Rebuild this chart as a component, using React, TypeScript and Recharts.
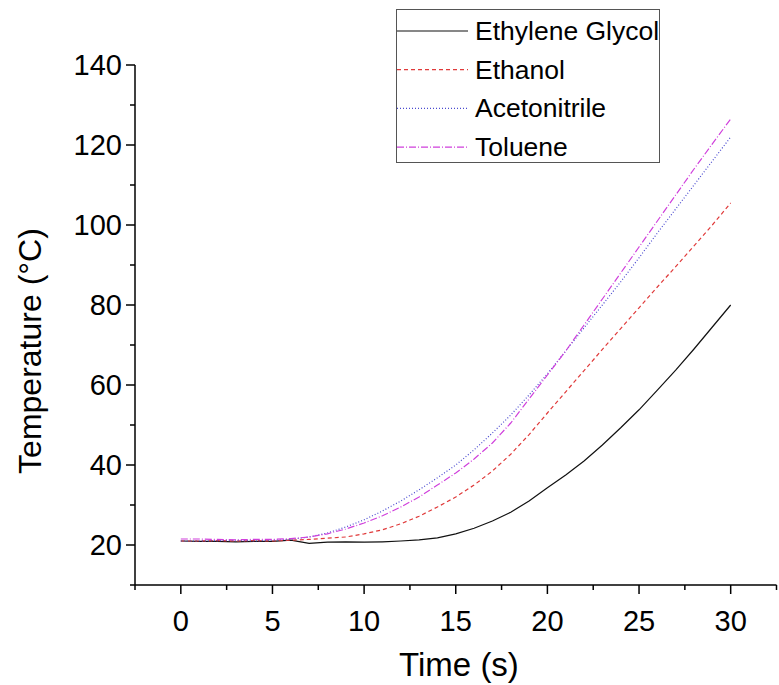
import { Label, Legend, Line, LineChart, XAxis, YAxis } from "recharts";

const FONT = '"Liberation Sans", Arial, sans-serif';

// time in seconds, one reading per second
const times = [
  0, 1, 2, 3, 4, 5, 6, 7, 8, 9, 10, 11, 12, 13, 14, 15, 16, 17, 18, 19, 20,
  21, 22, 23, 24, 25, 26, 27, 28, 29, 30,
];

const ethyleneGlycol = [
  21.0, 20.9, 20.9, 20.8, 20.9, 20.9, 21.2, 20.4, 20.7, 20.8, 20.7, 20.8, 21.0,
  21.3, 21.8, 22.8, 24.2, 26.0, 28.2, 31.0, 34.3, 37.5, 41.0, 45.0, 49.3, 53.8,
  58.7, 63.7, 69.0, 74.5, 80.0,
];

const ethanol = [
  21.0, 21.0, 21.1, 21.0, 21.1, 21.0, 21.2, 21.4, 21.7, 22.0, 22.8, 23.8, 25.3,
  27.2, 29.5, 32.0, 35.0, 38.5, 42.7, 47.6, 53.0, 58.3, 63.6, 68.9, 74.1, 79.3,
  84.5, 89.6, 94.8, 100.0, 105.5,
];

const acetonitrile = [
  21.0, 21.0, 21.1, 21.2, 21.0, 21.2, 21.4, 22.0, 23.0, 24.5, 26.3, 28.5, 31.0,
  33.8, 36.8, 40.0, 43.8, 48.0, 52.5, 57.5, 62.8, 68.5, 74.3, 80.0, 85.8, 91.8,
  98.0, 104.0, 110.0, 116.0, 122.0,
];

const toluene = [
  21.5, 21.5, 21.4, 21.3, 21.4, 21.4, 21.6, 22.0, 22.8, 24.0, 25.5, 27.3, 29.5,
  32.0, 35.0, 38.0, 41.5, 45.5, 50.5, 56.5, 62.5, 68.5, 75.0, 81.5, 88.0, 94.5,
  101.0, 107.5, 114.0, 120.3, 126.5,
];

const xTicks = [
  -2.5, 0, 2.5, 5, 7.5, 10, 12.5, 15, 17.5, 20, 22.5, 25, 27.5, 30, 32.5,
];
const yTicks = [10, 20, 30, 40, 50, 60, 70, 80, 90, 100, 110, 120, 130, 140];

const series = [
  { key: "eg", name: "Ethylene Glycol", color: "#111111", dash: undefined },
  { key: "et", name: "Ethanol", color: "#e03a3a", dash: "4 3" },
  { key: "ac", name: "Acetonitrile", color: "#4b4bd0", dash: "1 2" },
  { key: "to", name: "Toluene", color: "#d040dc", dash: "7 2 1 2" },
];

const data = times.map((t, i) => ({
  t,
  eg: ethyleneGlycol[i],
  et: ethanol[i],
  ac: acetonitrile[i],
  to: toluene[i],
}));

function XTick(props: any) {
  const { x, y, payload } = props;
  const major = payload.value % 5 === 0;
  return (
    <g>
      <line x1={x} x2={x} y1={y} y2={y + (major ? 9 : 5)} stroke="#000" strokeWidth={1.5} />
      {major && (
        <text x={x} y={y + 46} textAnchor="middle" fontSize={29} fontFamily={FONT} fill="#000">
          {payload.value}
        </text>
      )}
    </g>
  );
}

function YTick(props: any) {
  const { x, y, payload } = props;
  const major = payload.value % 20 === 0;
  return (
    <g>
      <line x1={x - (major ? 9 : 5)} x2={x} y1={y} y2={y} stroke="#000" strokeWidth={1.5} />
      {major && (
        <text x={x - 13} y={y + 10} textAnchor="end" fontSize={29} fontFamily={FONT} fill="#000">
          {payload.value}
        </text>
      )}
    </g>
  );
}

function LegendBox() {
  return (
    <svg width={264} height={155}>
      <rect x={0.5} y={0.5} width={263} height={153} fill="#fff" stroke="#555" />
      {series.map((s, i) => {
        const cy = 22 + i * 38.7;
        return (
          <g key={s.key}>
            <line x1={1} x2={72} y1={cy} y2={cy} stroke={s.color} strokeWidth={1.2} strokeDasharray={s.dash} />
            <text x={79} y={cy + 9} fontSize={26.5} fontFamily={FONT} fill="#000">
              {s.name}
            </text>
          </g>
        );
      })}
    </svg>
  );
}

export default function App() {
  return (
    <div style={{ position: "absolute", left: 0, top: 0, background: "#fff" }}>
      <LineChart width={779} height={685} data={data} margin={{ top: 65, right: 2.5, bottom: 0, left: 0 }}>
        <XAxis
          dataKey="t"
          type="number"
          domain={[-2.5, 32.5]}
          ticks={xTicks}
          interval={0}
          tickSize={0}
          tickMargin={0}
          tickLine={false}
          tick={<XTick />}
          axisLine={{ stroke: "#000", strokeWidth: 1.5 }}
          height={100}
          allowDataOverflow
        >
          <Label
            content={() => (
              <text x={459} y={676} textAnchor="middle" fontSize={33} fontFamily={FONT} fill="#000">
                Time (s)
              </text>
            )}
          />
        </XAxis>
        <YAxis
          type="number"
          domain={[10, 140]}
          ticks={yTicks}
          interval={0}
          tickSize={0}
          tickMargin={0}
          tickLine={false}
          tick={<YTick />}
          axisLine={{ stroke: "#000", strokeWidth: 1.5 }}
          width={135}
          allowDataOverflow
        >
          <Label
            content={() => (
              <text
                x={41}
                y={351}
                transform="rotate(-90 41 351)"
                textAnchor="middle"
                fontSize={32}
                fontFamily={FONT}
                fill="#000"
              >
                Temperature (°C)
              </text>
            )}
          />
        </YAxis>
        <Legend
          layout="vertical"
          align="center"
          verticalAlign="middle"
          wrapperStyle={{ position: "absolute", left: 396, top: 9, width: 264, height: 155 }}
          content={() => <LegendBox />}
        />
        {series.map((s) => (
          <Line
            key={s.key}
            dataKey={s.key}
            name={s.name}
            type="linear"
            stroke={s.color}
            strokeWidth={1.2}
            strokeDasharray={s.dash}
            dot={false}
            activeDot={false}
            isAnimationActive={false}
          />
        ))}
      </LineChart>
    </div>
  );
}
